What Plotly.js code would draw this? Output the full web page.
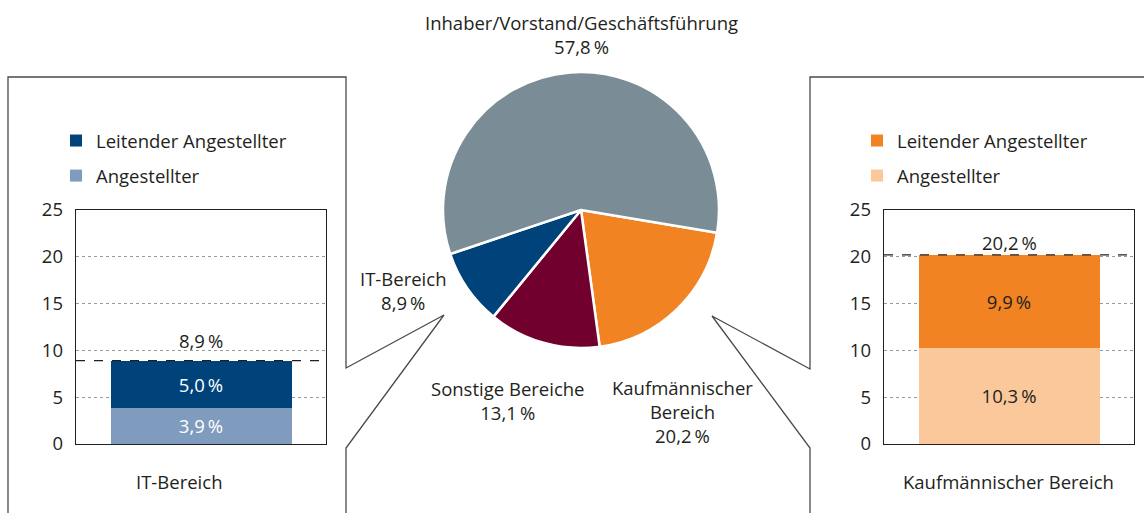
<!DOCTYPE html>
<html><head><meta charset="utf-8">
<script src="https://cdn.plot.ly/plotly-3.0.1.min.js"></script>
<style>html,body{margin:0;padding:0;background:#fff}#chart{width:1144px;height:513px}</style>
</head><body><div id="chart"></div>
<script>
// ---- data ----
const pieLabels = ['Kaufmännischer Bereich', 'Sonstige Bereiche', 'IT-Bereich', 'Inhaber/Vorstand/Geschäftsführung'];
const pieDisplay = ['Kaufmännischer<br>Bereich', 'Sonstige Bereiche', 'IT-Bereich', 'Inhaber/Vorstand/Geschäftsführung'];
const pieValues = [20.2, 13.1, 8.9, 57.8];
const pieColors = ['#F28322', '#72002E', '#00437A', '#7A8C95'];

const seriesNames = ['Angestellter', 'Leitender Angestellter'];
const itCategory = ['IT-Bereich'];
const itValues = [3.9, 5.0];
const itColors = ['#7F9BBE', '#00437A'];
const kfmCategory = ['Kaufmännischer Bereich'];
const kfmValues = [10.3, 9.9];
const kfmColors = ['#FBC89B', '#F28322'];
const yTicks = [0, 5, 10, 15, 20, 25];

// ---- helpers ----
const W = 1144, H = 513;
const px = x => x / W;
const py = y => 1 - y / H;
const fmt = v => v.toFixed(1).replace('.', ',') + '\u2009%';
const FONT = 'Open Sans, Noto Sans, sans-serif';
const FS = 18.5;
const TXT = '#231f20';
const sum = a => a.reduce((s, v) => s + v, 0);

const traces = [];
traces.push({
  type: 'pie', labels: pieLabels, values: pieValues, sort: false,
  direction: 'clockwise', rotation: 99.5,
  marker: {colors: pieColors, line: {color: '#fff', width: 2.5}},
  textinfo: 'none', hoverinfo: 'label+value', showlegend: false,
  domain: {x: [px(443), px(719)], y: [py(348), py(72)]}
});

function addBars(cat, vals, cols, xa, ya, legend, grp, textCols) {
  vals.forEach((v, i) => {
    traces.push({
      type: 'bar', x: cat, y: [v], name: seriesNames[i],
      marker: {color: cols[i]}, xaxis: xa, yaxis: ya,
      legend: legend, legendgroup: grp + i, legendrank: 10 - i,
      text: [fmt(v)], textposition: 'inside', insidetextanchor: 'middle',
      textangle: 0, constraintext: 'none',
      textfont: {family: FONT, size: FS, color: textCols[i]},
      hoverinfo: 'name+y'
    });
  });
}
addBars(itCategory, itValues, itColors, 'x', 'y', 'legend', 'it', ['#ffffff', '#ffffff']);
addBars(kfmCategory, kfmValues, kfmColors, 'x2', 'y2', 'legend2', 'kf', [TXT, TXT]);

const yax = (dom, anchor) => ({
  domain: dom, anchor: anchor, range: [0, 25], tickvals: yTicks, ticks: '', showline: true, mirror: true,
  linecolor: '#231f20', linewidth: 1.3, showgrid: true, gridcolor: '#9a9a9a', griddash: 'dot',
  gridwidth: 1, zeroline: false, fixedrange: true, ticklabelstandoff: 8,
  tickfont: {family: FONT, size: FS, color: TXT}
});
const xax = (dom, anchor) => ({
  domain: dom, anchor: anchor, showticklabels: false, ticks: '', showline: true, mirror: true,
  linecolor: '#231f20', linewidth: 1.3, showgrid: false, zeroline: false, fixedrange: true
});

const legendCfg = (x) => ({
  x: x, y: py(122), xanchor: 'left', yanchor: 'top', traceorder: 'grouped',
  tracegroupgap: 8, font: {family: FONT, size: FS, color: TXT}, bgcolor: 'rgba(0,0,0,0)',
  itemclick: false, itemdoubleclick: false
});

const itTotal = sum(itValues), kfmTotal = sum(kfmValues);

const annFont = {family: FONT, size: FS, color: TXT};
const ann = (o) => Object.assign({showarrow: false, font: annFont, align: 'center', xanchor: 'center', yanchor: 'middle'}, o);
const annotations = [
  ann({xref: 'paper', yref: 'paper', x: px(581), y: py(34), text: pieDisplay[3] + '<br>' + fmt(pieValues[3])}),
  ann({xref: 'paper', yref: 'paper', x: px(403), y: py(290), text: pieDisplay[2] + '<br>' + fmt(pieValues[2])}),
  ann({xref: 'paper', yref: 'paper', x: px(508), y: py(400), text: pieDisplay[1] + '<br>' + fmt(pieValues[1])}),
  ann({xref: 'paper', yref: 'paper', x: px(683), y: py(411), text: pieDisplay[0] + '<br>' + fmt(pieValues[0])}),
  ann({xref: 'x', yref: 'y', x: itCategory[0], y: itTotal, yshift: 20, text: fmt(itTotal)}),
  ann({xref: 'x2', yref: 'y2', x: kfmCategory[0], y: kfmTotal, yshift: 12, text: fmt(kfmTotal)}),
  ann({xref: 'paper', yref: 'paper', x: px(179), y: py(481), text: itCategory[0]}),
  ann({xref: 'paper', yref: 'paper', x: px(1008), y: py(481), text: kfmCategory[0]})
];

const pathOf = pts => 'M ' + pts.map(p => px(p[0]) + ',' + py(p[1])).join(' L ');
const shapes = [
  {type: 'path', xref: 'paper', yref: 'paper', path: pathOf([[8, 515], [8, 77], [346, 77], [346, 368], [444, 315], [346, 448], [346, 515]]), line: {color: '#4a4a4a', width: 1.3}},
  {type: 'path', xref: 'paper', yref: 'paper', path: pathOf([[1146, 77], [810, 77], [810, 369], [712, 316], [810, 448], [810, 515]]), line: {color: '#4a4a4a', width: 1.3}},
  {type: 'line', xref: 'x domain', yref: 'y', x0: 0, x1: 1, y0: itTotal, y1: itTotal, line: {color: '#231f20', width: 1.2, dash: 'dash'}, layer: 'above'},
  {type: 'line', xref: 'x2 domain', yref: 'y2', x0: 0, x1: 1, y0: kfmTotal, y1: kfmTotal, line: {color: '#231f20', width: 1.2, dash: 'dash'}, layer: 'above'}
];

const layout = {
  width: W, height: H, margin: {l: 0, r: 0, t: 0, b: 0},
  paper_bgcolor: '#fff', plot_bgcolor: '#fff',
  barmode: 'stack', bargap: 0.276,
  font: {family: FONT, color: TXT},
  xaxis: xax([px(76), px(326)], 'y'), yaxis: yax([py(444), py(210)], 'x'),
  xaxis2: xax([px(884), px(1134)], 'y2'), yaxis2: yax([py(444), py(210)], 'x2'),
  legend: legendCfg(px(56)), legend2: legendCfg(px(857)),
  annotations: annotations, shapes: shapes
};

Plotly.newPlot('chart', traces, layout, {displayModeBar: false, staticPlot: true});
</script></body></html>
